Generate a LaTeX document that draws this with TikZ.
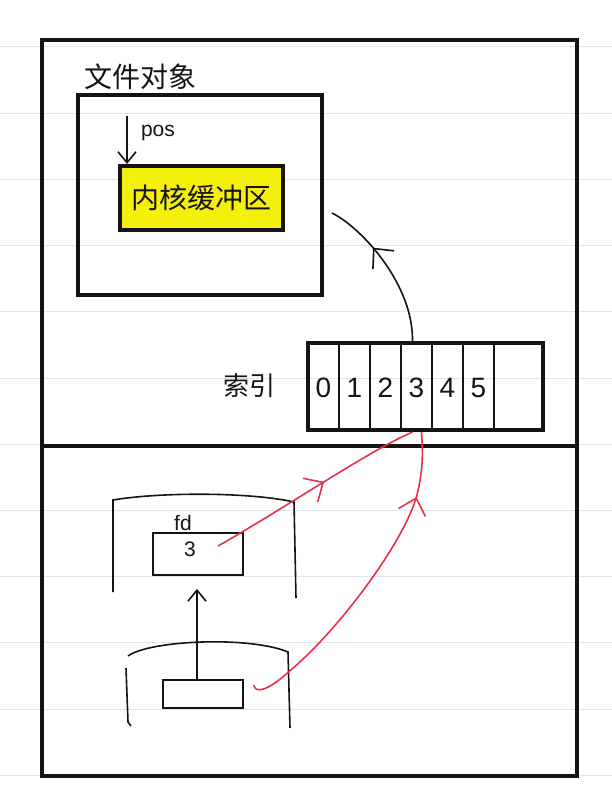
\documentclass[tikz,border=0pt]{standalone}
\usepackage{fontspec}
\setmainfont{Liberation Sans}
\newfontfamily\cjk{Noto Sans CJK SC}
\usetikzlibrary{arrows.meta, positioning, calc, decorations.markings}
\definecolor{cink}{HTML}{141414}
\definecolor{cred}{HTML}{E8304A}
\definecolor{cmark}{HTML}{F4F00C}
\definecolor{cruling}{HTML}{DCE7EB}
\tikzset{
  every picture/.style={x=1pt, y=-1pt, line width=1.6pt, color=cink},
  ruling/.style={draw=cruling, line width=1pt},
  frame/.style={draw, line width=4.5pt},
  obox/.style={draw, line width=4pt, inner sep=0pt},
  hbox/.style={draw, line width=1.8pt, inner sep=0pt},
  cell/.style={draw, line width=1.2pt, minimum width=31pt, minimum height=87pt, inner sep=0pt, font=\fontsize{28}{28}\selectfont},
  lbl/.style={font=\cjk\fontsize{28}{28}\selectfont, inner sep=0pt},
  note/.style={font=\fontsize{21}{21}\selectfont, inner sep=0pt},
  barb/.style={-{Straight Barb[length=11pt, width=18pt]}},
  midbarb/.style={postaction={decorate}, decoration={markings, mark=at position #1 with {\arrow{Straight Barb[length=15pt, width=28pt]}}}},
  redline/.style={color=cred, line width=1.6pt},
}
\begin{document}
\begin{tikzpicture}
  \useasboundingbox (0,0) rectangle (612,800);
  % ruled paper
  \foreach \k in {0,...,11} \draw[ruling] (0,47+66.2*\k) -- (612,47+66.2*\k);
  % kernel side
  \node[frame, minimum width=535pt, minimum height=736pt] (outer) at (309.5,408) {};
  \coordinate (midl) at (42,446);
  \coordinate (midr) at (577,446);
  \draw[frame] (midl) -- (midr);
  \node[obox, minimum width=244pt, minimum height=200pt] (fobj) at (200,195) {};
  \node[lbl] (fobjlbl) at (140,77) {文件对象};
  \node[obox, lbl, fill=cmark, minimum width=163pt, minimum height=64pt] (kbuf) at (201.5,198) {内核缓冲区};
  \coordinate (postop) at (127,116);
  \draw[barb] (postop) -- (postop |- kbuf.north);
  \node[note] (poslbl) at (158,133) {pos};
  % index table
  \foreach \i in {0,...,5} \node[cell] (c\i) at (323.5+31*\i,388) {\i};
  \node[obox, minimum width=235pt, minimum height=87pt] (idx) at (425.5,386.5) {};
  \node[lbl, font=\cjk\fontsize{26}{26}\selectfont] (idxlbl) at (249,386) {索引};
  \coordinate (fref) at (332,213);
  \draw[midbarb=0.66] ($(c3.north)+(-4,-1.5)$) .. controls (414,285) and (362,228) .. (fref);
  % user side
  \draw (113,592) -- (113,500) .. controls (160,492) and (250,492) .. (294,502) -- (296,598);
  \node[hbox, minimum width=90pt, minimum height=42pt] (fdbox) at (198,554) {};
  \node[note] (fdlbl) at (183,523) {fd};
  \node[note] (fdnum) at (190,549) {3};
  \draw (128,656) .. controls (150,640) and (250,636) .. (288,652) -- (290,728);
  \draw (126,668) -- (128,722) -- (131,726);
  \node[hbox, minimum width=80pt, minimum height=28pt] (p2box) at (203,694) {};
  \draw[barb] ($(p2box.north)+(-6,0)$) -- ($(fdbox.south)+(-1,13)$);
  % descriptor pointers
  \draw[redline, midbarb=0.55] ($(fdbox.center)+(20,-8)$) .. controls (290,505) and (370,450) .. ($(c3.south)+(-4,0)$);
  \draw[redline, midbarb=0.8] ($(p2box.east)+(10,-9)$) .. controls (255,694) and (268,690) .. (285,675)
    .. controls (340,630) and (405,540) .. (417,495) .. controls (423,470) and (423,455) .. ($(c3.south)+(5,0)$);
\end{tikzpicture}
\end{document}
